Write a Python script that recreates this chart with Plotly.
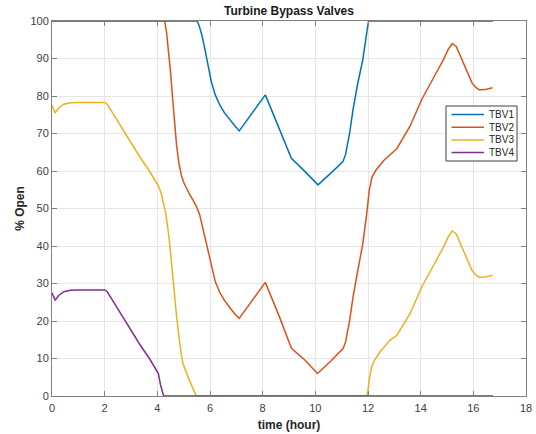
import plotly.graph_objects as go

t1 = [0, 5.51, 5.6, 5.7, 5.8, 5.92, 6.05, 6.2, 6.37, 6.55, 6.75, 6.95, 7.11, 7.6, 8.1, 8.3, 8.65, 9.09, 9.6, 10.1, 10.6, 11.05, 11.15, 11.3, 11.43, 11.6, 11.8, 11.95, 12.02, 16.75]
v1 = [100, 100, 98.5, 96, 92.7, 88, 83.8, 80.3, 77.6, 75.5, 73.6, 72, 70.7, 75.5, 80.3, 76.9, 70.9, 63.4, 59.9, 56.3, 59.5, 62.5, 64.5, 70, 76.3, 83, 89.6, 97, 100, 100]

t2 = [0, 4.28, 4.35, 4.42, 4.5, 4.58, 4.66, 4.73, 4.82, 4.91, 5.0, 5.1, 5.22, 5.35, 5.5, 5.61, 5.75, 5.86, 5.96, 6.05, 6.2, 6.37, 6.55, 6.75, 6.95, 7.11, 7.6, 8.1, 8.3, 8.65, 9.09, 9.6, 10.08, 10.6, 11.06, 11.15, 11.3, 11.43, 11.6, 11.8, 11.95, 12.05, 12.15, 12.3, 12.6, 13.1, 13.6, 14.05, 14.5, 14.85, 15.05, 15.2, 15.35, 15.55, 15.74, 15.95, 16.1, 16.24, 16.5, 16.73]
v2 = [100, 100, 97, 92.7, 86.5, 79.4, 72.5, 66.9, 62, 58.9, 57, 55.4, 53.8, 52.3, 50.3, 48.3, 44, 40.3, 37.6, 34.5, 30.5, 27.6, 25.5, 23.6, 21.8, 20.7, 25.5, 30.3, 26.9, 20.9, 12.7, 9.6, 6.0, 9.4, 12.7, 14.5, 20, 26.3, 33, 40.5, 48.5, 55, 58.3, 60.2, 62.8, 66, 72, 79.2, 85, 89.5, 92.5, 94, 93.2, 90, 86.9, 83.5, 82.2, 81.6, 81.8, 82.2]

t3 = [0, 0.05, 0.12, 0.25, 0.45, 0.7, 1.0, 2.0, 2.1, 2.3, 2.6, 2.82, 3.1, 3.33, 3.7, 4.04, 4.15, 4.32, 4.45, 4.53, 4.72, 4.85, 4.97, 5.2, 5.48, 11.96, 12.0, 12.05, 12.14, 12.25, 12.46, 12.84, 13.1, 13.6, 14.05, 14.5, 14.85, 15.05, 15.2, 15.35, 15.55, 15.74, 15.95, 16.1, 16.24, 16.5, 16.73]
v3 = [77.5, 76.5, 75.5, 76.8, 77.8, 78.2, 78.3, 78.3, 77.8, 75.5, 72, 69.5, 66.5, 63.8, 60, 56, 54, 48.7, 42, 35.4, 22, 14, 8.7, 4.5, 0, 0, 1.5, 4.5, 7.8, 9.6, 11.8, 14.9, 16.2, 22, 29.2, 35, 39.5, 42.5, 44, 43.2, 40, 36.9, 33.5, 32.2, 31.6, 31.8, 32.2]

t4 = [0, 0.05, 0.12, 0.25, 0.45, 0.7, 1.0, 2.0, 2.1, 2.3, 2.6, 2.82, 3.1, 3.33, 3.7, 4.04, 4.12, 4.24, 16.75]
v4 = [27.5, 26.5, 25.5, 26.8, 27.8, 28.2, 28.3, 28.3, 27.8, 25.5, 22, 19.5, 16.5, 13.8, 10, 6, 3, 0, 0]

names = ["TBV1", "TBV2", "TBV3", "TBV4"]
colors = ["#0072BD", "#D95319", "#EDB120", "#7E2F8E"]

FONT = "Liberation Sans, Arial"

fig = go.Figure()
for t, v, n, c in zip([t1, t2, t3, t4], [v1, v2, v3, v4], names, colors):
    fig.add_trace(go.Scatter(x=t, y=v, name=n, mode="lines",
                             line=dict(color=c, width=1.5), showlegend=False))

# compact legend box (MATLAB style), drawn in paper coordinates
L, R, T, B = 52, 526, 21, 396
def px(xp):
    return (xp - L) / (R - L)
def py(yp):
    return (B - yp) / (B - T)

shapes = [dict(type="rect", xref="paper", yref="paper",
               x0=px(446), x1=px(517), y0=py(161), y1=py(106),
               line=dict(color="#404040", width=1), fillcolor="white", layer="above")]
annotations = []
for i, (n, c) in enumerate(zip(names, colors)):
    yc = 114.5 + 12.7 * i
    shapes.append(dict(type="line", xref="paper", yref="paper",
                       x0=px(451.5), x1=px(484), y0=py(yc), y1=py(yc),
                       line=dict(color=c, width=1.5), layer="above"))
    annotations.append(dict(text=n, xref="paper", yref="paper", x=px(486.5), y=py(yc),
                            xanchor="left", yanchor="middle", showarrow=False,
                            font=dict(family=FONT, size=10, color="#262626")))

axis_common = dict(showline=True, linecolor="#808080", linewidth=1, mirror="ticks",
                   ticks="inside", ticklen=5, tickcolor="#808080", automargin=False,
                   showgrid=True, gridcolor="#e6e6e6", gridwidth=1, zeroline=False,
                   tickfont=dict(family=FONT, size=11, color="#404040"))

fig.update_layout(
    width=536, height=434,
    margin=dict(l=L, r=536 - R, t=T, b=434 - B),
    paper_bgcolor="white", plot_bgcolor="white",
    title=dict(text="<b>Turbine Bypass Valves</b>", x=(L + R) / 2 / 536, xanchor="center",
               y=1 - 11 / 434, yanchor="middle", yref="container",
               font=dict(family=FONT, size=12, color="#1a1a1a")),
    xaxis=dict(range=[0, 18], dtick=2, tick0=0, ticklabelstandoff=2,
               title=dict(text="<b>time (hour)</b>", standoff=7,
                          font=dict(family=FONT, size=12, color="#262626")),
               **axis_common),
    yaxis=dict(range=[0, 100], dtick=10, tick0=0,
               title=dict(text="<b>% Open</b>", standoff=3,
                          font=dict(family=FONT, size=12, color="#262626")),
               **axis_common),
    shapes=shapes,
    annotations=annotations,
    showlegend=False,
)

fig.write_html("out.html")
